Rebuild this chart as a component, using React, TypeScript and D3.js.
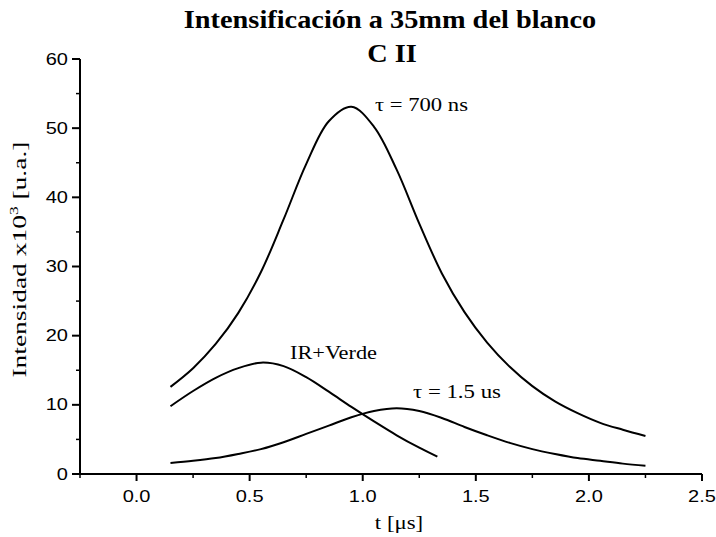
import React from "react";
import * as d3 from "d3";

const title = "Intensificación a 35mm del blanco";
const subtitle = "C II";

const xTicks = [0, 0.5, 1.0, 1.5, 2.0, 2.5];
const xMinor = [-0.25, 0.25, 0.75, 1.25, 1.75, 2.25];
const yTicks = [0, 10, 20, 30, 40, 50, 60];
const yMinor = [5, 15, 25, 35, 45, 55];

const t700 = [0.15, 0.25, 0.35, 0.45, 0.55, 0.65, 0.75, 0.85, 0.95, 1.05, 1.15, 1.25, 1.35, 1.45, 1.55, 1.65, 1.75, 1.85, 1.95, 2.05, 2.15, 2.25];
const v700 = [12.6, 15.3, 18.8, 23.3, 29.2, 36.8, 44.8, 51.0, 53.1, 50.2, 44.0, 36.2, 29.0, 23.4, 19.0, 15.5, 12.7, 10.5, 8.8, 7.4, 6.4, 5.5];

const tIR = [0.15, 0.25, 0.35, 0.45, 0.55, 0.65, 0.75, 0.85, 0.95, 1.05, 1.15, 1.25, 1.33];
const vIR = [9.8, 12.0, 13.9, 15.3, 16.1, 15.6, 14.0, 11.9, 9.7, 7.6, 5.6, 3.8, 2.5];

const t15 = [0.15, 0.25, 0.35, 0.45, 0.55, 0.65, 0.75, 0.85, 0.95, 1.05, 1.15, 1.25, 1.35, 1.45, 1.55, 1.65, 1.75, 1.85, 1.95, 2.05, 2.15, 2.25];
const v15 = [1.6, 1.9, 2.3, 2.9, 3.6, 4.6, 5.8, 7.0, 8.2, 9.1, 9.5, 9.1, 8.1, 6.8, 5.6, 4.5, 3.6, 2.9, 2.3, 1.9, 1.5, 1.2];

const series = [
  { t: t700, v: v700 },
  { t: tIR, v: vIR },
  { t: t15, v: v15 },
];

export default function App() {
  const W = 716, H = 537;
  const x = d3.scaleLinear().domain([-0.25, 2.5]).range([80, 702]);
  const y = d3.scaleLinear().domain([0, 60]).range([474, 59]);
  const line = d3
    .line<[number, number]>()
    .x((d) => x(d[0]))
    .y((d) => y(d[1]))
    .curve(d3.curveCatmullRom.alpha(0.5));
  const serif = "'Liberation Serif', 'Times New Roman', serif";
  const sans = "'Liberation Sans', Arial, sans-serif";
  return (
    <svg width={W} height={H} style={{ display: "block", position: "absolute", left: 0, top: 0 }}>
      <rect x={0} y={0} width={W} height={H} fill="#ffffff" />
      {/* title */}
      <g transform={`translate(390,28) scale(1.09,1)`}>
        <text x={0} y={0} textAnchor="middle" fontFamily={serif} fontWeight="bold" fontSize={26} fill="#000">
          {title}
        </text>
      </g>
      <g transform={`translate(392,62) scale(1.09,1)`}>
        <text x={0} y={0} textAnchor="middle" fontFamily={serif} fontWeight="bold" fontSize={26} fill="#000">
          {subtitle}
        </text>
      </g>
      {/* axes */}
      <line x1={x(-0.25)} x2={x(2.5)} y1={y(0)} y2={y(0)} stroke="#000" strokeWidth={2} />
      <line x1={x(-0.25)} x2={x(-0.25)} y1={y(0)} y2={y(60)} stroke="#000" strokeWidth={2} />
      {xTicks.map((t) => (
        <g key={"xt" + t}>
          <line x1={x(t)} x2={x(t)} y1={y(0)} y2={y(0) + 7} stroke="#000" strokeWidth={2} />
          <g transform={`translate(${x(t)},${y(0) + 28}) scale(1.25,1)`}>
            <text textAnchor="middle" fontFamily={sans} fontSize={16} fill="#000">
              {t.toFixed(1)}
            </text>
          </g>
        </g>
      ))}
      {xMinor.map((t) => (
        <line key={"xm" + t} x1={x(t)} x2={x(t)} y1={y(0)} y2={y(0) + 4} stroke="#000" strokeWidth={1.5} />
      ))}
      {yTicks.map((v) => (
        <g key={"yt" + v}>
          <line x1={x(-0.25) - 8} x2={x(-0.25)} y1={y(v)} y2={y(v)} stroke="#000" strokeWidth={2} />
          <g transform={`translate(${x(-0.25) - 12},${y(v) + 5.5}) scale(1.25,1)`}>
            <text textAnchor="end" fontFamily={sans} fontSize={16} fill="#000">
              {v}
            </text>
          </g>
        </g>
      ))}
      {yMinor.map((v) => (
        <line key={"ym" + v} x1={x(-0.25) - 4} x2={x(-0.25)} y1={y(v)} y2={y(v)} stroke="#000" strokeWidth={1.5} />
      ))}
      {/* curves */}
      {series.map((s, i) => (
        <path
          key={"s" + i}
          d={line(s.t.map((tt, j) => [tt, s.v[j]] as [number, number])) || ""}
          fill="none"
          stroke="#000"
          strokeWidth={2}
        />
      ))}
      {/* annotations */}
      <text x={375} y={111} fontFamily={serif} fontSize={19} fill="#000" textLength={93} lengthAdjust="spacingAndGlyphs">
        τ = 700 ns
      </text>
      <text x={290} y={359} fontFamily={serif} fontSize={19} fill="#000" textLength={87} lengthAdjust="spacingAndGlyphs">
        IR+Verde
      </text>
      <text x={413} y={398} fontFamily={serif} fontSize={19} fill="#000" textLength={88} lengthAdjust="spacingAndGlyphs">
        τ = 1.5 us
      </text>
      {/* axis titles */}
      <g transform={`translate(399,529) scale(1.2,1)`}>
        <text textAnchor="middle" fontFamily={serif} fontSize={19} fill="#000">
          t [μs]
        </text>
      </g>
      <g transform={`translate(26,${y(31)}) rotate(-90)`}>
        <text textAnchor="middle" fontFamily={serif} fontSize={19} fill="#000" textLength={236} lengthAdjust="spacingAndGlyphs">
          Intensidad x10<tspan dy={-8} fontSize={12}>3</tspan><tspan dy={8}> [u.a.]</tspan>
        </text>
      </g>
    </svg>
  );
}
